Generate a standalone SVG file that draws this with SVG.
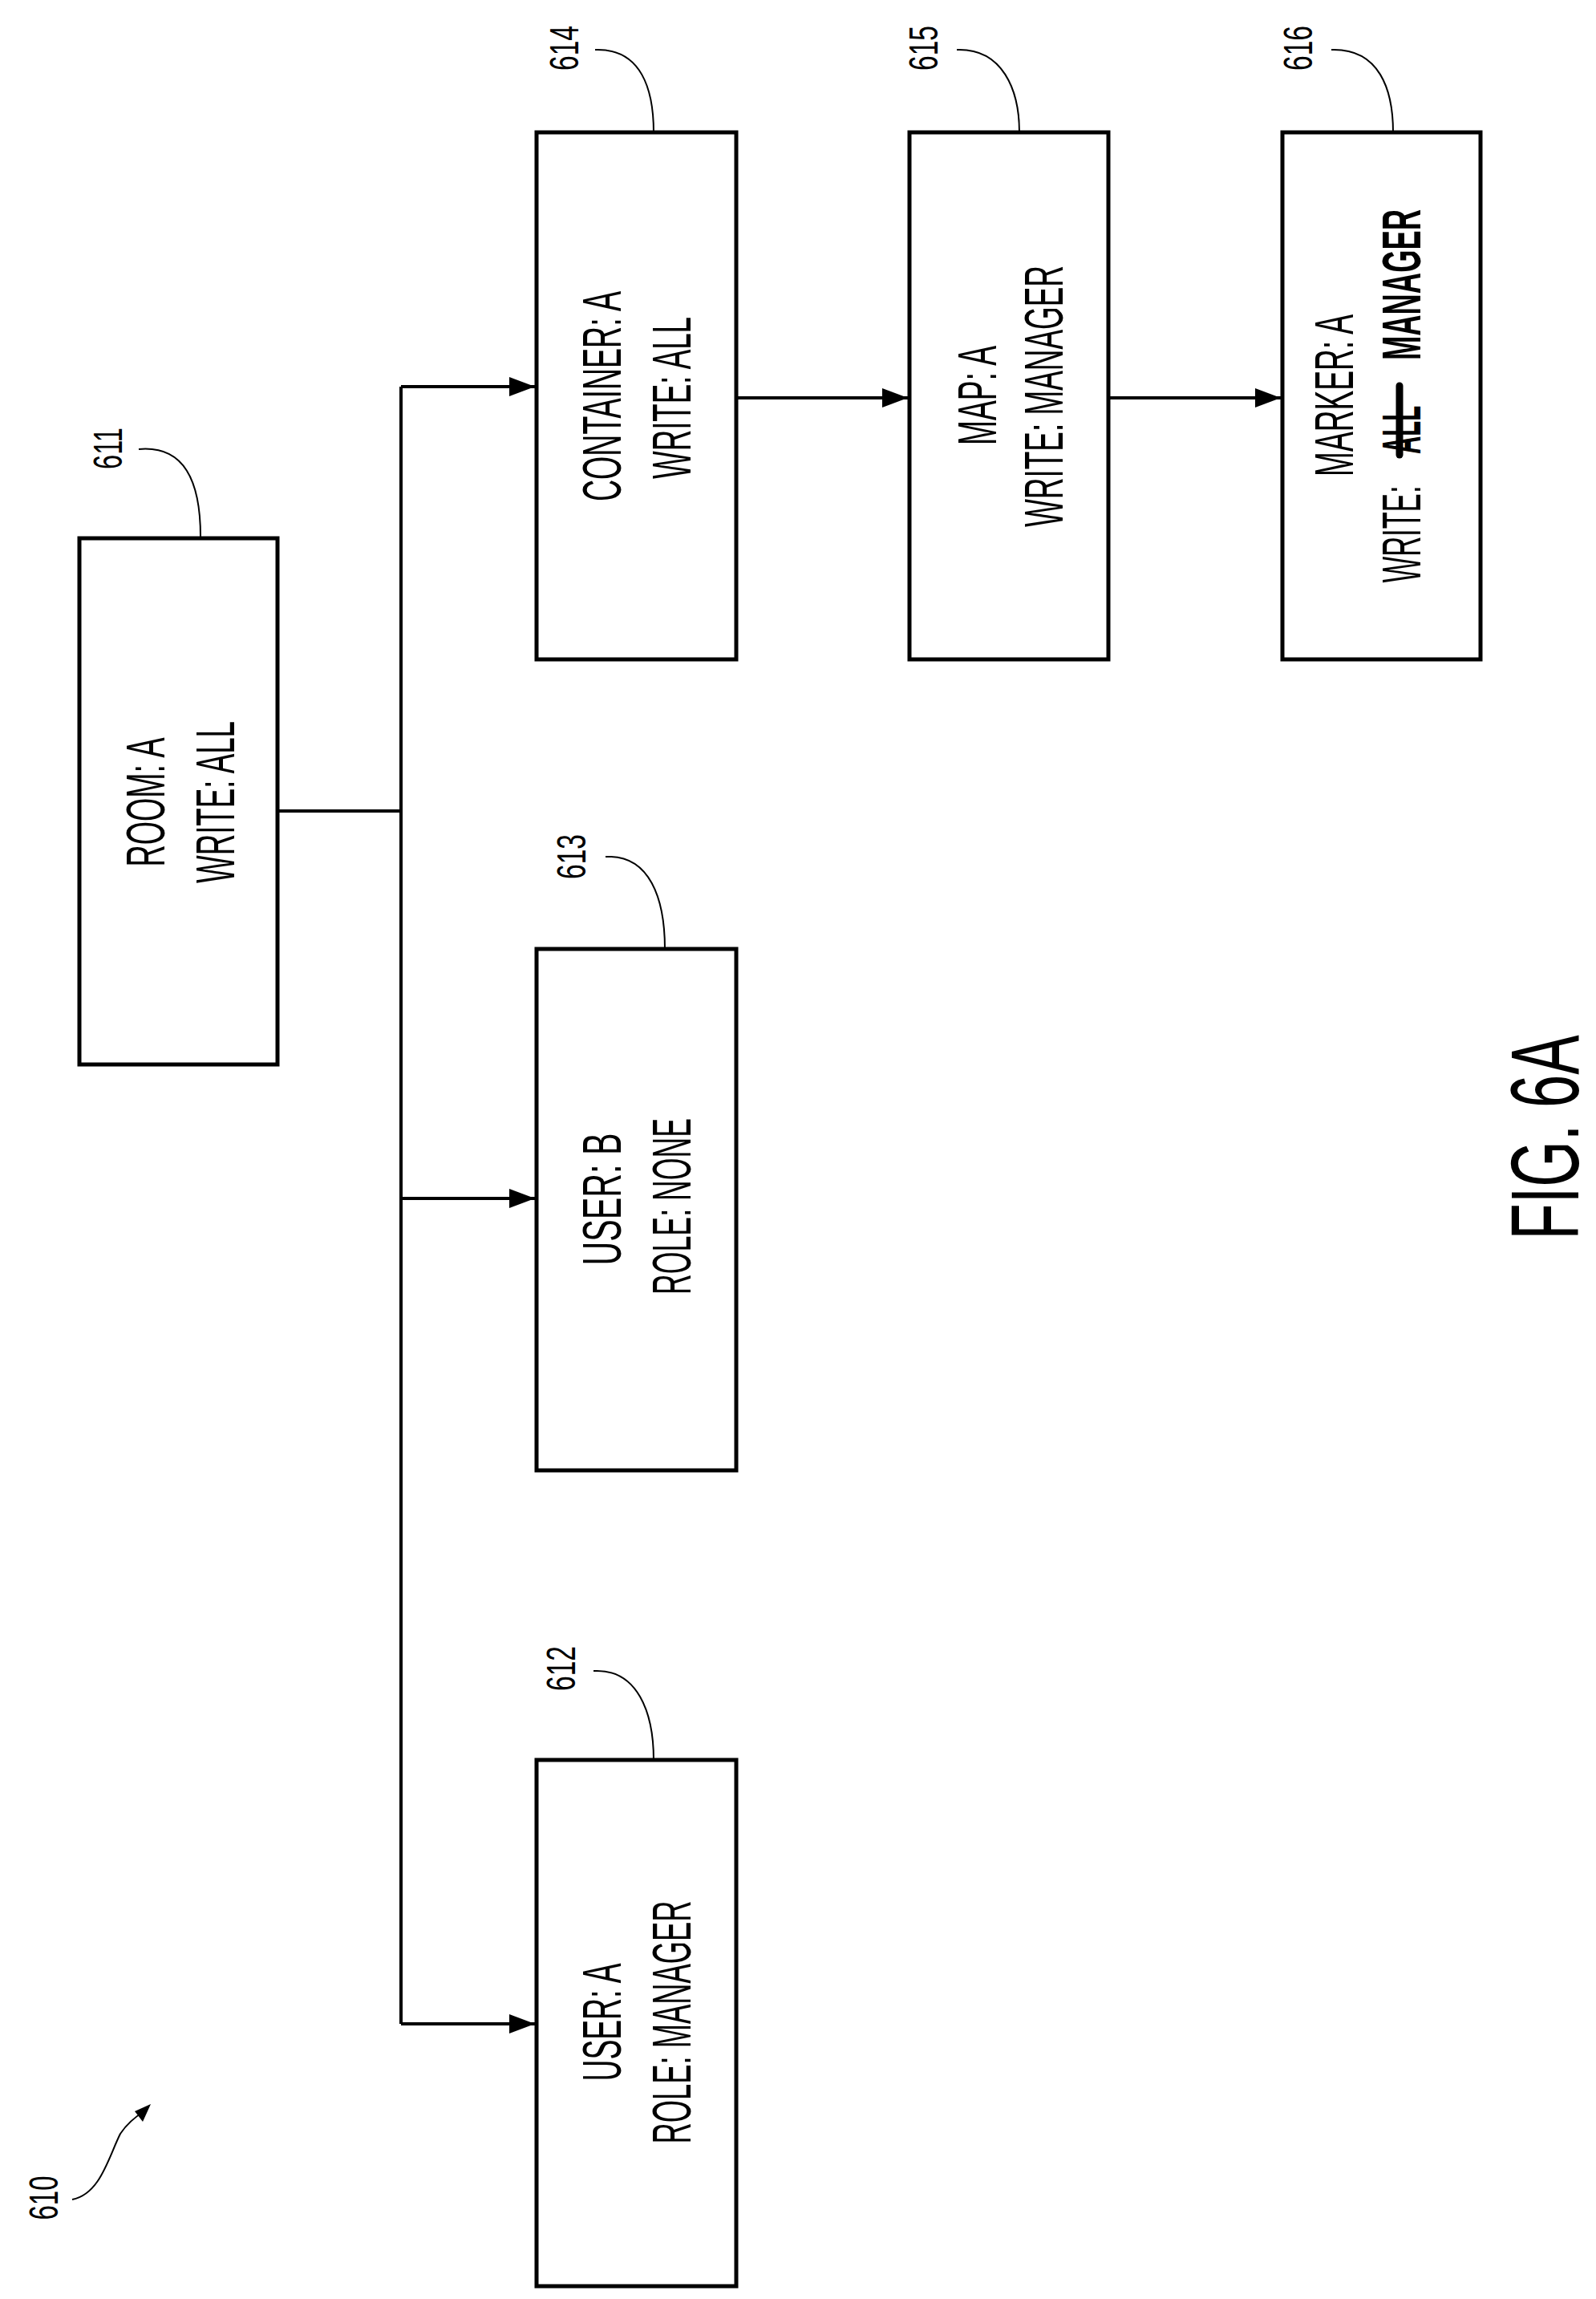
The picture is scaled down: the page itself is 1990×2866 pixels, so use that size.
<svg xmlns="http://www.w3.org/2000/svg" width="1990" height="2866" viewBox="0 0 1990 2866">
<style>
.box{fill:#fff;stroke:#000;stroke-width:5}
.ln{fill:none;stroke:#000;stroke-width:4}
.ld{fill:none;stroke:#000;stroke-width:2}
.t{font-family:"Liberation Sans",Arial,sans-serif;font-size:68px;text-anchor:middle;fill:#000}
.b{font-weight:bold}
.r{font-family:"Liberation Sans",Arial,sans-serif;font-size:50px;text-anchor:middle;fill:#000}
</style>
<defs>
<marker id="ah" markerWidth="8" markerHeight="6" refX="8" refY="3" orient="auto" markerUnits="strokeWidth"><path d="M0,0 L8,3 L0,6 Z" fill="#000"/></marker>
</defs>
<rect width="1990" height="2866" fill="#fff"/>
<g id="connectors">
<path class="ln" d="M346 1011 H500"/>
<path class="ln" d="M500 482 V2523"/>
<path class="ln" d="M500 482 H667" marker-end="url(#ah)"/>
<path class="ln" d="M500 1494 H667" marker-end="url(#ah)"/>
<path class="ln" d="M500 2523 H667" marker-end="url(#ah)"/>
<path class="ln" d="M918 496 H1132" marker-end="url(#ah)"/>
<path class="ln" d="M1382 496 H1597" marker-end="url(#ah)"/>
</g>
<g id="n611">
<rect class="box" x="99" y="671" width="247" height="656"/>
<text class="t" transform="translate(205,1000) rotate(-90)" textLength="161" lengthAdjust="spacingAndGlyphs">ROOM: A</text>
<text class="t" transform="translate(292,1000) rotate(-90)" textLength="202" lengthAdjust="spacingAndGlyphs">WRITE: ALL</text>
<text class="r" transform="translate(152,559) rotate(-90)" textLength="52" lengthAdjust="spacingAndGlyphs">611</text>
<path class="ld" d="M173 560 C230 555 250 600 250 669"/>
</g>
<g id="n614">
<rect class="box" x="669" y="165" width="249" height="657"/>
<text class="t" transform="translate(774,494) rotate(-90)" textLength="262" lengthAdjust="spacingAndGlyphs">CONTAINER: A</text>
<text class="t" transform="translate(861,496) rotate(-90)" textLength="202" lengthAdjust="spacingAndGlyphs">WRITE: ALL</text>
<text class="r" transform="translate(721,60) rotate(-90)" textLength="56" lengthAdjust="spacingAndGlyphs">614</text>
<path class="ld" d="M742 62 C800 60 815 112 815 165"/>
</g>
<g id="n615">
<rect class="box" x="1134" y="165" width="248" height="657"/>
<text class="t" transform="translate(1242,493) rotate(-90)" textLength="124" lengthAdjust="spacingAndGlyphs">MAP: A</text>
<text class="t" transform="translate(1325,494) rotate(-90)" textLength="326" lengthAdjust="spacingAndGlyphs">WRITE: MANAGER</text>
<text class="r" transform="translate(1169,60) rotate(-90)" textLength="56" lengthAdjust="spacingAndGlyphs">615</text>
<path class="ld" d="M1193 62 C1250 60 1271 112 1271 165"/>
</g>
<g id="n616">
<rect class="box" x="1599" y="165" width="247" height="657"/>
<text class="t" transform="translate(1687,493) rotate(-90)" textLength="202" lengthAdjust="spacingAndGlyphs">MARKER: A</text>
<text class="t" transform="translate(1771,666) rotate(-90)" textLength="121" lengthAdjust="spacingAndGlyphs">WRITE:</text>
<text class="t b" transform="translate(1771,536) rotate(-90)" textLength="60" lengthAdjust="spacingAndGlyphs">ALL</text>
<path d="M1745 481 V567" stroke="#000" stroke-width="9" stroke-linecap="round"/>
<text class="t b" transform="translate(1771,355) rotate(-90)" textLength="188" lengthAdjust="spacingAndGlyphs">MANAGER</text>
<text class="r" transform="translate(1636,60) rotate(-90)" textLength="56" lengthAdjust="spacingAndGlyphs">616</text>
<path class="ld" d="M1660 62 C1720 60 1737 112 1737 165"/>
</g>
<g id="n613">
<rect class="box" x="669" y="1183" width="249" height="650"/>
<text class="t" transform="translate(774,1495) rotate(-90)" textLength="165" lengthAdjust="spacingAndGlyphs">USER: B</text>
<text class="t" transform="translate(861,1504) rotate(-90)" textLength="220" lengthAdjust="spacingAndGlyphs">ROLE: NONE</text>
<text class="r" transform="translate(730,1068) rotate(-90)" textLength="56" lengthAdjust="spacingAndGlyphs">613</text>
<path class="ld" d="M755 1068 C810 1065 829 1120 829 1183"/>
</g>
<g id="n612">
<rect class="box" x="669" y="2194" width="249" height="656"/>
<text class="t" transform="translate(774,2521) rotate(-90)" textLength="147" lengthAdjust="spacingAndGlyphs">USER: A</text>
<text class="t" transform="translate(861,2521) rotate(-90)" textLength="303" lengthAdjust="spacingAndGlyphs">ROLE: MANAGER</text>
<text class="r" transform="translate(717,2080) rotate(-90)" textLength="56" lengthAdjust="spacingAndGlyphs">612</text>
<path class="ld" d="M740 2083 C795 2080 815 2135 815 2194"/>
</g>
<g id="ref610">
<text class="r" transform="translate(72,2740) rotate(-90)" textLength="55" lengthAdjust="spacingAndGlyphs">610</text>
<path class="ld" d="M90 2742 C125 2735 135 2690 150 2660 C160 2645 170 2638 180 2632"/>
<path d="M188 2623 L168 2632 L178 2645 Z" fill="#000"/>
</g>
<g id="fig">
<text transform="translate(1968,1418) rotate(-90)" font-family="Liberation Sans,Arial,sans-serif" font-size="120" text-anchor="middle" textLength="255" lengthAdjust="spacingAndGlyphs">FIG. 6A</text>
</g>
</svg>
